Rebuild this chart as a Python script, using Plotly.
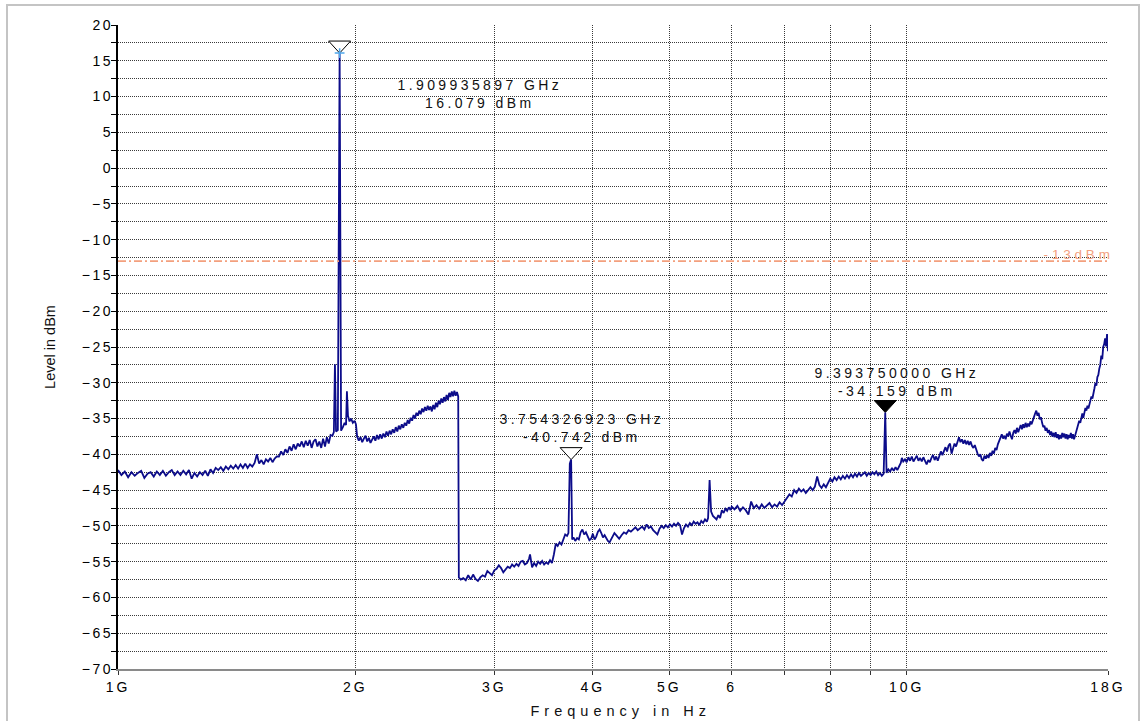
import math
import plotly.graph_objects as go

# ---------------- data ----------------
band1_freq_mhz = [
    1000, 1010, 1020, 1030, 1040, 1050, 1060, 1070, 1080, 1090,
    1100, 1110, 1120, 1130, 1140, 1150, 1160, 1170, 1180, 1190,
    1200, 1210, 1220, 1230, 1240, 1250, 1260, 1270, 1280, 1290,
    1300, 1310, 1320, 1330, 1340, 1350, 1360, 1370, 1380, 1390,
    1400, 1410, 1420, 1430, 1440, 1450, 1460, 1470, 1480, 1490,
    1500, 1510, 1520, 1530, 1540, 1550, 1560, 1570, 1580, 1590,
    1600, 1610, 1620, 1630, 1640, 1650, 1660, 1670, 1680, 1690,
    1700, 1710, 1720, 1730, 1740, 1750, 1760, 1770, 1780, 1790,
    1800, 1810, 1820, 1830, 1840, 1850, 1860,
]
band1_level_dbm = [
    -42.2, -42.9, -42.4, -43.2, -42.5, -43.0, -42.6, -42.3, -43.3, -42.7,
    -42.5, -43.1, -42.4, -42.9, -42.3, -43.0, -42.5, -42.2, -42.9, -42.4,
    -42.9, -42.3, -42.8, -42.2, -43.4, -42.6, -43.1, -42.5, -42.9, -42.3,
    -43.0, -42.1, -42.6, -41.9, -42.2, -41.8, -42.3, -41.7, -42.1, -41.6,
    -42.0, -41.5, -42.0, -41.4, -41.9, -41.3, -41.9, -41.4, -41.7, -41.2,
    -40.0, -41.3, -40.8, -41.4, -40.7, -41.0, -40.5, -41.1, -40.6, -40.3,
    -40.3, -39.6, -40.1, -39.3, -39.8, -38.9, -39.5, -38.6, -39.3, -38.5,
    -38.9, -38.2, -39.0, -38.1, -38.8, -38.0, -39.1, -38.2, -37.9, -38.9,
    -38.2, -39.1, -37.8, -38.9, -37.6, -38.5, -37.3,
]

carrier_freq_mhz = [
    1870, 1878, 1884, 1890, 1900, 1909.935897, 1918, 1928, 1938, 1946,
    1951, 1957, 1966, 1975, 1985, 1995, 2003,
]
carrier_level_dbm = [
    -37.4, -36.9, -27.4, -36.8, -36.6, 16.079, -36.7, -36.2, -35.6, -35.9,
    -31.2, -34.6, -35.4, -35.0, -35.6, -35.3, -35.8,
]

band2_freq_mhz = [
    2010, 2020, 2030, 2040, 2050, 2060, 2070, 2080, 2090, 2100,
    2110, 2120, 2130, 2140, 2150, 2160, 2170, 2180, 2190, 2200,
    2210, 2220, 2230, 2240, 2250, 2260, 2270, 2280, 2290, 2300,
    2310, 2320, 2330, 2340, 2350, 2360, 2370, 2380, 2390, 2400,
    2410, 2420, 2430, 2440, 2450, 2460, 2470, 2480, 2490, 2500,
    2510, 2520, 2530, 2540, 2550, 2560, 2570, 2580, 2590, 2600,
    2610, 2620, 2630, 2640, 2650, 2660, 2670, 2680, 2690, 2700,
]
band2_level_dbm = [
    -37.5, -38.1, -37.6, -38.3, -37.8, -37.4, -38.2, -37.7, -38.4, -37.8,
    -37.5, -38.1, -37.3, -37.9, -37.2, -37.8, -37.1, -37.6, -36.8, -37.4,
    -36.7, -37.2, -36.5, -37.0, -36.2, -36.8, -36.0, -36.5, -35.8, -36.3,
    -35.6, -36.0, -35.2, -35.7, -34.9, -35.3, -34.5, -35.0, -34.2, -34.6,
    -33.9, -34.4, -33.6, -34.1, -33.4, -33.9, -33.2, -33.8, -33.3, -34.0,
    -33.1, -33.7, -32.8, -33.4, -32.5, -33.0, -32.2, -32.8, -32.0, -32.6,
    -31.7, -32.4, -31.4, -32.0, -31.2, -31.9, -31.1, -31.8, -31.3, -31.9,
]

band3_freq_mhz = [
    2705, 2720, 2740, 2760, 2780, 2800, 2820, 2840, 2860, 2880,
    2900, 2920, 2940, 2960, 2980, 3000, 3020, 3040, 3060, 3080,
    3100, 3120, 3140, 3160, 3180, 3200, 3220, 3240, 3260, 3280,
    3300, 3320, 3330, 3350, 3370, 3390, 3410, 3430, 3450, 3470,
    3490, 3510, 3530, 3550, 3570, 3590, 3610, 3630, 3650, 3670,
    3690, 3710, 3725, 3740, 3754.326923, 3766, 3780, 3800, 3820, 3840,
    3860, 3880, 3900, 3920, 3940, 3960, 3980, 4000, 4020, 4040,
    4060, 4080, 4100, 4120, 4140, 4160, 4180, 4200, 4230, 4260,
    4290, 4320, 4350, 4380, 4410, 4440, 4470, 4500, 4530, 4560,
    4590, 4620, 4650, 4680, 4710, 4740, 4770, 4800, 4830, 4860,
    4890, 4920, 4950, 4980, 5010, 5040, 5070, 5100, 5130, 5160,
    5190, 5220, 5250, 5280, 5310, 5340, 5370, 5400, 5430, 5460,
    5490, 5520, 5550, 5580, 5600, 5625, 5650, 5680, 5710, 5740,
    5770, 5800, 5830, 5860, 5890, 5920, 5950, 5980,
]
band3_level_dbm = [
    -57.2, -57.5, -57.3, -57.6, -56.9, -57.5, -56.8, -57.4, -57.7, -57.2,
    -56.9, -57.1, -56.3, -56.6, -56.9, -56.2, -56.0, -55.5, -55.9, -56.5,
    -56.1, -55.7, -55.9, -55.4, -55.7, -55.3, -55.6, -55.0, -54.9, -55.4,
    -55.2, -54.6, -54.0, -55.8, -55.2, -55.6, -55.0, -55.3, -54.9, -55.4,
    -55.1, -55.3, -54.8, -55.2, -54.0, -52.5, -52.8, -52.3, -52.6, -51.8,
    -51.2, -51.4, -51.0, -41.3, -40.742, -51.9, -51.6, -52.1, -51.7, -51.9,
    -50.9, -50.5, -51.2, -50.9, -51.4, -52.0, -51.8, -51.1, -51.9, -51.5,
    -50.8, -50.5, -51.0, -51.6, -51.3, -51.8, -52.1, -52.3, -51.7, -51.0,
    -51.4, -51.8, -51.3, -50.9, -51.1, -50.6, -50.8, -50.5, -50.2, -50.6,
    -50.4, -50.1, -50.5, -49.8, -50.3, -50.1, -50.6, -50.9, -51.2, -50.4,
    -50.0, -50.3, -49.9, -50.2, -49.8, -50.1, -49.7, -50.0, -49.6, -49.9,
    -51.2, -50.3, -49.8, -50.1, -49.6, -49.9, -49.4, -49.7, -49.5, -49.9,
    -49.3, -49.6, -49.1, -49.4, -48.9, -43.6, -48.0, -48.6, -48.9, -49.1,
    -48.5, -48.9, -47.8, -48.2, -47.6, -47.9, -47.4, -47.8,
]

band4_freq_mhz = [
    6000, 6050, 6100, 6150, 6200, 6250, 6300, 6350, 6400, 6450,
    6500, 6550, 6600, 6650, 6700, 6750, 6800, 6850, 6900, 6950,
    7000, 7050, 7100, 7150, 7200, 7250, 7300, 7350, 7400, 7450,
    7500, 7550, 7600, 7650, 7700, 7750, 7800, 7850, 7900, 7950,
    8000, 8050, 8100, 8150, 8200, 8250, 8300, 8350, 8400, 8450,
    8500, 8550, 8600, 8650, 8700, 8750, 8800, 8850, 8900, 8950,
    9000, 9050, 9100, 9150, 9200, 9250, 9300, 9350, 9393.75, 9430,
    9480, 9530, 9580, 9630, 9680, 9730, 9780, 9830, 9860, 9900,
    9950,
]
band4_level_dbm = [
    -47.3, -47.7, -47.2, -47.9, -47.4, -47.8, -48.4, -46.6, -47.5, -47.1,
    -47.6, -47.0, -47.5, -47.2, -46.8, -47.4, -47.0, -47.3, -46.7, -47.1,
    -46.6, -46.2, -45.6, -45.9, -45.0, -45.4, -44.8, -45.2, -44.9, -45.4,
    -44.9, -44.6, -45.0, -44.5, -43.1, -44.3, -44.7, -44.2, -44.6, -43.9,
    -43.4, -43.8, -43.2, -43.6, -43.1, -43.5, -43.0, -43.4, -42.9, -43.3,
    -42.8, -43.2, -42.7, -43.1, -42.6, -43.0, -42.8, -42.5, -43.0, -42.6,
    -42.9, -42.5, -42.8, -42.4, -42.9, -42.6, -43.0, -42.7, -34.159, -42.6,
    -42.1, -42.4, -41.9, -42.3, -41.8, -42.2, -41.7, -41.2, -40.5, -41.0,
    -40.7,
]

band5_freq_mhz = [
    10000, 10050, 10100, 10150, 10200, 10250, 10300, 10350, 10400, 10450,
    10500, 10550, 10600, 10650, 10700, 10750, 10800, 10850, 10900, 10950,
    11000, 11050, 11100, 11150, 11200, 11250, 11300, 11350, 11400, 11450,
    11500, 11550, 11600, 11650, 11700, 11750, 11800, 11850, 11900, 11950,
    12000, 12050, 12100, 12150, 12200, 12250, 12300, 12350, 12400, 12450,
    12500, 12550, 12600, 12650, 12700, 12750, 12800, 12850, 12900, 12950,
    13000, 13050, 13100, 13150, 13200, 13250, 13300, 13350, 13400, 13450,
    13500, 13550, 13600, 13650, 13700, 13750, 13800, 13850, 13900, 13950,
    14000, 14050, 14100, 14150, 14200, 14250, 14300, 14350, 14400, 14450,
    14500, 14550, 14600, 14650, 14700, 14750, 14800, 14850, 14900, 14950,
    15000, 15050, 15100, 15150, 15200, 15250, 15300, 15350, 15400, 15450,
    15500, 15550, 15600, 15650, 15700, 15750, 15800, 15850, 15900, 15950,
    16000, 16050, 16100, 16150, 16200, 16250, 16300, 16350, 16400, 16450,
    16500, 16550, 16600, 16650, 16700, 16750, 16800, 16850, 16900, 16950,
    17000, 17050, 17100, 17150, 17200, 17250, 17300, 17350, 17400, 17450,
    17500, 17550, 17600, 17650, 17700, 17750, 17800, 17850, 17900, 17950,
    18000,
]
band5_level_dbm = [
    -41.1, -40.4, -40.9, -40.3, -41.0, -40.6, -40.2, -40.9, -40.5, -41.0,
    -40.4, -40.9, -41.4, -40.8, -41.1, -40.5, -40.1, -40.8, -40.3, -40.9,
    -40.2, -39.6, -40.1, -39.4, -39.0, -39.6, -38.8, -38.5, -39.9, -39.2,
    -38.5, -38.9, -38.1, -37.6, -38.3, -37.9, -38.5, -38.0, -38.6, -38.1,
    -38.7, -38.2, -38.8, -39.1, -38.7, -39.5, -39.9, -40.3, -40.0, -40.7,
    -40.9, -40.2, -40.6, -40.1, -40.5, -39.8, -40.2, -39.5, -39.9, -39.1,
    -39.4, -38.6, -38.1, -37.6, -37.2, -37.8, -37.4, -37.9, -37.1, -37.5,
    -36.8, -37.4, -37.9, -37.0, -36.6, -37.1, -36.3, -36.9, -36.4, -35.9,
    -36.5, -35.8, -36.3, -35.6, -36.2, -35.7, -36.1, -35.4, -35.8, -35.1,
    -34.8, -34.3, -33.9, -34.6, -34.2, -35.1, -34.8, -35.6, -36.2, -36.0,
    -36.7, -36.3, -37.0, -36.6, -37.3, -36.8, -37.5, -37.0, -37.6, -36.9,
    -37.7, -37.2, -37.9, -37.3, -37.8, -37.0, -37.6, -37.1, -37.8, -37.2,
    -37.9, -37.3, -37.7, -37.0, -37.8, -37.2, -37.9, -37.4, -36.9, -36.3,
    -35.9, -35.3, -35.6, -34.7, -34.3, -34.9, -34.1, -33.5, -33.9, -33.2,
    -33.6, -32.9, -32.6, -31.9, -32.2, -31.1, -30.8, -30.0, -30.4, -29.2,
    -28.9, -28.0, -27.5, -26.2, -26.7, -25.0, -24.6, -23.8, -24.9, -23.2,
    -25.6,
]

marker_freq_ghz = [1.909935897, 3.754326923, 9.393750000]
marker_level_dbm = [16.079, -40.742, -34.159]
marker_freq_text = ["1.909935897 GHz", "3.754326923 GHz", "9.393750000 GHz"]
marker_level_text = ["16.079 dBm", "-40.742 dBm", "-34.159 dBm"]
marker_filled = [False, False, True]

limit_dbm = -13
limit_text = "-13dBm"

x_tick_vals_ghz = [1, 2, 3, 4, 5, 6, 7, 8, 9, 10, 18]
x_tick_text = ["1G", "2G", "3G", "4G", "5G", "6", "", "8", "", "10G", "18G"]
x_title = "Frequency in Hz"
y_title = "Level in dBm"

# ---------------- styles / layout ----------------
trace_color = "#0c0c8a"
grid_color = "#3a3a3a"
grid_dash = "1px,1px"
limit_color = "#f3a07e"
font_family = "Liberation Sans"
tick_font = dict(family=font_family, size=14, color="#000000")
label_font = dict(family=font_family, size=14, color="#111111")

freq_mhz = (band1_freq_mhz + carrier_freq_mhz + band2_freq_mhz + band3_freq_mhz
            + band4_freq_mhz + band5_freq_mhz)
level_dbm = (band1_level_dbm + carrier_level_dbm + band2_level_dbm + band3_level_dbm
             + band4_level_dbm + band5_level_dbm)
freq_ghz = [f / 1000.0 for f in freq_mhz]

fig = go.Figure()
fig.add_trace(go.Scatter(
    x=freq_ghz, y=level_dbm, mode="lines",
    line=dict(color=trace_color, width=1.8),
    hoverinfo="skip", showlegend=False,
))
# small light-blue cross at the carrier marker tip
fig.add_trace(go.Scatter(
    x=[marker_freq_ghz[0]], y=[marker_level_dbm[0]], mode="markers",
    marker=dict(symbol="cross-thin", size=7, line=dict(color="#4fa8ec", width=1.5)),
    hoverinfo="skip", showlegend=False,
))

shapes = []
annotations = []
text_shifts = [(140, -41), (11, 32), (12, 31)]
for f, lv, ft, lt, filled, (dx, dy) in zip(marker_freq_ghz, marker_level_dbm, marker_freq_text,
                                           marker_level_text, marker_filled, text_shifts):
    shapes.append(dict(
        type="path", xref="x", yref="y", xsizemode="pixel", ysizemode="pixel",
        xanchor=f, yanchor=lv, path="M-11,12 L11,12 L0,0 Z",
        fillcolor="black" if filled else "white",
        line=dict(color="black", width=1), layer="between",
    ))
    annotations.append(dict(
        x=math.log10(f), y=lv, xref="x", yref="y", showarrow=False,
        text=ft + "<br>" + lt, font=label_font, align="center",
        xanchor="center", yanchor="middle", xshift=dx, yshift=dy,
    ))

# -13 dBm limit line
shapes.append(dict(
    type="line", xref="paper", yref="y", x0=0, x1=1, y0=limit_dbm, y1=limit_dbm,
    line=dict(color=limit_color, width=1.6, dash="8px,3px,2px,3px"), layer="above",
))
annotations.append(dict(
    x=1, y=limit_dbm, xref="paper", yref="y", showarrow=False, text=limit_text,
    font=dict(family=font_family, size=13.5, color=limit_color),
    xanchor="right", yanchor="bottom", yshift=-3, xshift=-4,
))

# x-axis title
annotations.append(dict(
    x=0.508, y=-0.0652, xref="paper", yref="paper", showarrow=False, text=x_title,
    font=dict(family=font_family, size=14.5, color="#111111"),
    xanchor="center", yanchor="middle",
))

# outer light-gray frame
shapes.append(dict(
    type="rect", xref="paper", yref="paper",
    x0=-0.11212, x1=1.03131, y0=-0.087, y1=1.03106,
    line=dict(color="#c4c4c4", width=2), fillcolor="rgba(0,0,0,0)", layer="below",
))

fig.update_layout(
    width=1145, height=721,
    margin=dict(l=118, r=37, t=25, b=52),
    paper_bgcolor="white", plot_bgcolor="white",
    showlegend=False,
    shapes=shapes, annotations=annotations,
    xaxis=dict(
        type="log", range=[0, math.log10(18)],
        tickvals=x_tick_vals_ghz, ticktext=x_tick_text,
        ticks="outside", ticklen=4, tickcolor="#333333", tickwidth=1,
        showline=True, linecolor="#8a8a8a", linewidth=2,
        showgrid=True, gridcolor=grid_color, griddash=grid_dash, gridwidth=1,
        zeroline=False, tickfont=tick_font, automargin=False,
    ),
    yaxis=dict(
        range=[-70, 20], dtick=5, tick0=0,
        ticks="outside", ticklen=5, tickcolor="black", tickwidth=1,
        showline=True, linecolor="black", linewidth=2,
        showgrid=True, gridcolor=grid_color, griddash=grid_dash, gridwidth=1,
        minor=dict(dtick=2.5, tick0=0, ticks="outside", ticklen=5, tickcolor="black",
                   showgrid=True, gridcolor=grid_color, griddash=grid_dash, gridwidth=1),
        zeroline=False, tickfont=tick_font, automargin=False,
        title=dict(text=y_title,
                   font=dict(family=font_family, size=14.5, color="#111111"), standoff=25),
    ),
)

post_js = """
var gd = document.getElementById('{plot_id}');
function spacing(sel, v) {
  gd.querySelectorAll(sel).forEach(function(t) { t.style.letterSpacing = v; });
}
spacing('.xtick text', '3px');
gd.querySelectorAll('.ytick text').forEach(function(t) {
  t.style.letterSpacing = '2.6px';
  t.setAttribute('dx', '5');
});
gd.querySelectorAll('.annotation-text').forEach(function(t) {
  var s = t.textContent;
  if (s === 'Frequency in Hz') { t.style.letterSpacing = '5px'; }
  else if (s === '-13dBm') { t.style.letterSpacing = '3.8px'; }
  else { t.style.letterSpacing = '3.4px'; }
});
"""

fig.write_html("out.html", post_script=post_js)
